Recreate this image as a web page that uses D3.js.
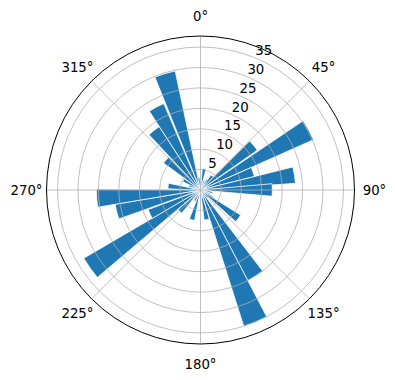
<!DOCTYPE html>
<html>
<head>
<meta charset="utf-8">
<script src="https://cdn.jsdelivr.net/npm/d3@7"></script>
<style>
  body { margin: 0; background: #fff; }
  svg { display: block; font-family: "DejaVu Sans", sans-serif; }
</style>
</head>
<body>
<svg id="chart" width="396" height="380"></svg>
<script>
// bar directions (degrees, clockwise from north) and lengths
const theta = [10, 22, 33, 40, 50, 61, 71, 81, 90, 102, 112, 121, 127, 137, 147.5, 157.4,
  168, 182, 196, 208, 224, 234.7, 244.5, 255.5, 265.5, 277, 290, 300, 311, 322, 332, 343, 352];
const radii = [5.3, 2.5, 3.0, 4.5, 17, 30.3, 13.6, 23.3, 17.6, 3, 2.5, 3.5, 11.6, 2.5, 25, 35,
  7.4, 2, 7.6, 3, 7.3, 33.1, 13.7, 21.2, 25.5, 8, 3, 4.8, 11.2, 18.5, 23, 29.8, 3];
const barWidth = 10;

const radialTicks = [5, 10, 15, 20, 25, 30, 35];
const angleTicks = [0, 45, 90, 135, 180, 225, 270, 315];
const rMax = 37.7;

const cx = 200.5, cy = 190, R = 154;

const svg = d3.select("#chart");
const g = svg.append("g").attr("transform", `translate(${cx},${cy})`);

const r = d3.scaleLinear().domain([0, rMax]).range([0, R]);
const a = d3.scaleLinear().domain([0, 360]).range([0, 2 * Math.PI]);

// bars
const arc = d3.arc()
    .innerRadius(0)
    .outerRadius(d => r(d.value))
    .startAngle(d => a(d.angle - barWidth / 2))
    .endAngle(d => a(d.angle + barWidth / 2));

g.selectAll("path.bar")
    .data(theta.map((t, i) => ({angle: t, value: radii[i]})))
    .join("path")
    .classed("bar", true)
    .attr("d", arc)
    .attr("fill", "#1f77b4")
    .attr("stroke", "#fff")
    .attr("stroke-width", 0.8);

// grid sits above the bars, like matplotlib does
g.selectAll("circle.ring")
    .data(radialTicks)
    .join("circle")
    .classed("ring", true)
    .attr("r", d => r(d))
    .attr("fill", "none")
    .attr("stroke", "#b0b0b0")
    .attr("stroke-width", 0.8);

g.selectAll("line.spoke")
    .data(angleTicks)
    .join("line")
    .classed("spoke", true)
    .attr("x2", d => R * Math.sin(a(d)))
    .attr("y2", d => -R * Math.cos(a(d)))
    .attr("stroke", "#b0b0b0")
    .attr("stroke-width", 0.8);

// outer frame
g.append("circle")
    .attr("r", R)
    .attr("fill", "none")
    .attr("stroke", "#000")
    .attr("stroke-width", 1);

// angle labels
g.selectAll("text.angle")
    .data(angleTicks)
    .join("text")
    .classed("angle", true)
    .attr("x", d => (R + 20) * Math.sin(a(d)))
    .attr("y", d => -(R + 20) * Math.cos(a(d)))
    .attr("dy", "0.35em")
    .attr("text-anchor", "middle")
    .attr("font-size", 13.3)
    .text(d => d + "°");

// radial labels along 22.5 deg
const labelAngle = a(22.5);
g.selectAll("text.rlabel")
    .data(radialTicks)
    .join("text")
    .classed("rlabel", true)
    .attr("x", d => r(d) * Math.sin(labelAngle))
    .attr("y", d => -r(d) * Math.cos(labelAngle) - 3)
    .attr("font-size", 13.3)
    .text(d => d);
</script>
</body>
</html>
